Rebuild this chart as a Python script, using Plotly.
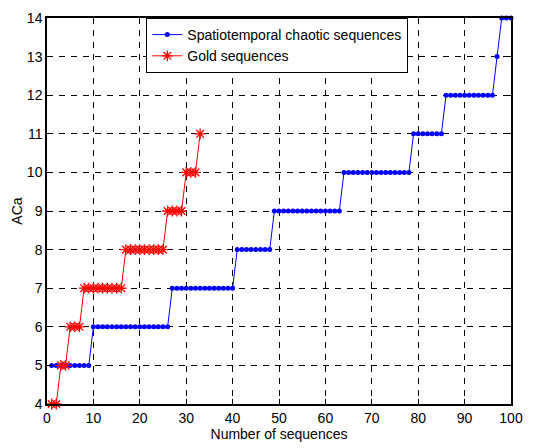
import plotly.graph_objects as go

# ACa values per number of sequences
chaotic_x = list(range(1, 101))
chaotic_aca = ([5] * 9 + [6] * 17 + [7] * 14 + [8] * 8 + [9] * 15 +
               [10] * 15 + [11] * 7 + [12] * 11 + [13] * 1 + [14] * 3)

gold_x = list(range(1, 34))
gold_aca = ([4] * 2 + [5] * 2 + [6] * 3 + [7] * 9 + [8] * 9 +
            [9] * 4 + [10] * 3 + [11] * 1)

x_ticks = list(range(0, 101, 10))
y_ticks = list(range(4, 15))

font = dict(family="Liberation Sans, Arial, sans-serif", size=14, color="black")

fig = go.Figure()
fig.add_trace(go.Scatter(
    x=chaotic_x, y=chaotic_aca, mode="lines+markers",
    name="Spatiotemporal chaotic sequences",
    line=dict(color="#0000ff", width=1),
    marker=dict(color="#0000ff", size=5, symbol="circle"),
    cliponaxis=False,
))
fig.add_trace(go.Scatter(
    x=gold_x, y=gold_aca, mode="lines+markers",
    name="Gold sequences",
    line=dict(color="#ff0000", width=1),
    marker=dict(color="#ff0000", size=9, symbol="asterisk-open",
                line=dict(color="#ff0000", width=1.3)),
    cliponaxis=False,
))

axis_common = dict(
    showline=True, linecolor="black", linewidth=1.5, mirror="ticks",
    ticks="inside", ticklen=5, tickcolor="black",
    showgrid=True, gridcolor="black", gridwidth=1, griddash="6px,6px",
    zeroline=False, tickfont=font,
)

fig.update_xaxes(range=[0, 100], tickvals=x_ticks,
                 title=dict(text="Number of sequences", font=font, standoff=3),
                 **axis_common)
fig.update_yaxes(range=[4, 14], tickvals=y_ticks,
                 title=dict(text="ACa", font=font, standoff=1),
                 **axis_common)

fig.update_layout(
    width=533, height=448,
    margin=dict(l=47, r=18, t=10, b=44),
    paper_bgcolor="white", plot_bgcolor="white",
    font=font,
    showlegend=True,
    legend=dict(x=0.214, y=1.0, xanchor="left", yanchor="top",
                bgcolor="white", bordercolor="black", borderwidth=1,
                font=font, tracegroupgap=0, itemwidth=30),
)

fig.write_html("out.html")
